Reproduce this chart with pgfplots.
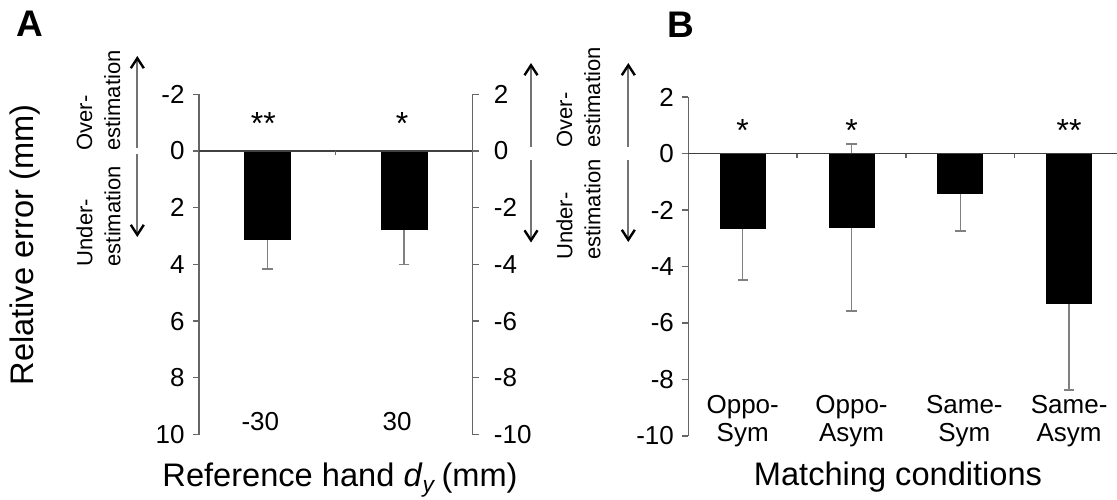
\documentclass[border=0pt]{standalone}
\usepackage{pgfplots}
\pgfplotsset{compat=1.18}
\usepackage{fontspec}
\setmainfont{Liberation Sans}
\usetikzlibrary{arrows.meta}
\definecolor{axgray}{gray}{0.4}
\definecolor{errgray}{gray}{0.5}
\definecolor{arrgray}{gray}{0.45}
\newcommand{\tickfont}{\fontsize{13}{14}\selectfont}
\newcommand{\astfont}{\fontsize{16}{16}\selectfont}
\newcommand{\labfont}{\fontsize{16.3}{19}\selectfont}
\newcommand{\estfont}{\fontsize{11}{14}\selectfont}

\pgfplotsset{
  common/.style={
    scale only axis, axis x line=none, tick align=outside, major tick length=3pt,
    axis line style={axgray, line width=0.7pt},
    every tick/.style={axgray, line width=0.7pt},
    yticklabel style={font=\tickfont, inner sep=0pt, text=black},
    clip=false,
  },
  errs/.style={draw=none, forget plot,
    error bars/.cd, y dir=both, y explicit,
    error bar style={draw=errgray, line width=0.75pt},
    error mark options={draw=errgray, line width=0.75pt, rotate=90, mark size=2.6pt}},
}

\begin{document}
\begin{tikzpicture}[x=0.5pt,y=-0.5pt]
\useasboundingbox (0,0) rectangle (1117,499);

% ---------- Panel A (left axis) ----------
\begin{axis}[common, at={(99.5pt,-217.25pt)}, anchor=south west,
  width=136.75pt, height=170.15pt,
  xmin=0, xmax=2, ymin=-2, ymax=10, y dir=reverse,
  axis y line*=left,
  ytick={-2,0,2,4,6,8,10}, yticklabels={-2,0,2,4,6,8,10},
  yticklabel style={anchor=east, xshift=-4pt}]
\addplot[errs] coordinates {(0.5,3.13) +- (0,1.03) (1.5,2.77) +- (0,1.23)};
\addplot[ybar, bar width=23pt, fill=black, draw=black] coordinates {(0.5,3.13) (1.5,2.77)};
\draw[black!75, line width=0.8pt] (axis cs:0,0) -- (axis cs:2,0);
\draw[axgray, line width=0.7pt] (axis cs:1,0) -- ([yshift=-2pt]axis cs:1,0);
\node[font=\astfont, inner sep=0pt] at ([xshift=-2pt]axis cs:0.5,-0.95) {**};
\node[font=\astfont, inner sep=0pt] at ([xshift=-1pt]axis cs:1.5,-0.95) {*};
\node[font=\tickfont, inner sep=0pt] at ([xshift=-3.5pt]axis cs:0.5,9.53) {-30};
\node[font=\tickfont, inner sep=0pt] at ([xshift=-3.5pt]axis cs:1.5,9.53) {30};
\end{axis}

% ---------- Panel A (right axis) ----------
\begin{axis}[common, at={(99.5pt,-217.25pt)}, anchor=south west,
  width=136.75pt, height=170.15pt,
  xmin=0, xmax=2, ymin=-10, ymax=2,
  axis y line*=right,
  ytick={-10,-8,-6,-4,-2,0,2}, yticklabels={-10,-8,-6,-4,-2,0,2},
  yticklabel style={anchor=west, xshift=7.5pt}]
\addplot[draw=none] coordinates {(0,0) (2,0)};
\end{axis}

% ---------- Panel B ----------
\begin{axis}[common, at={(344.15pt,-218pt)}, anchor=south west,
  width=214.35pt, height=169.5pt,
  xmin=0, xmax=3.94, ymin=-10, ymax=2,
  axis y line*=left,
  ytick={-10,-8,-6,-4,-2,0,2}, yticklabels={-10,-8,-6,-4,-2,0,2},
  yticklabel style={anchor=east, xshift=-4pt}]
\addplot[errs] coordinates {(0.5,-2.65) +- (0,1.82) (1.5,-2.62) +- (0,2.95) (2.5,-1.40) +- (0,1.35) (3.5,-5.31) +- (0,3.07)};
\addplot[ybar, bar width=22.5pt, fill=black, draw=black] coordinates {(0.5,-2.65) (1.5,-2.62) (2.5,-1.40) (3.5,-5.31)};
\draw[black!75, line width=0.8pt] (axis cs:0,0) -- (axis cs:3.94,0);
\draw[axgray, line width=0.7pt] (axis cs:1,0) -- ([yshift=-2pt]axis cs:1,0);
\draw[axgray, line width=0.7pt] (axis cs:2,0) -- ([yshift=-2pt]axis cs:2,0);
\draw[axgray, line width=0.7pt] (axis cs:3,0) -- ([yshift=-2pt]axis cs:3,0);
\node[font=\astfont, inner sep=0pt] at (axis cs:0.5,0.82) {*};
\node[font=\astfont, inner sep=0pt] at (axis cs:1.5,0.82) {*};
\node[font=\astfont, inner sep=0pt] at (axis cs:3.5,0.82) {**};
\node[font=\tickfont, inner sep=0pt, align=center] at (axis cs:0.5,-9.48) {Oppo-\\Sym};
\node[font=\tickfont, inner sep=0pt, align=center] at (axis cs:1.5,-9.48) {Oppo-\\Asym};
\node[font=\tickfont, inner sep=0pt, align=center] at ([xshift=2pt]axis cs:2.5,-9.48) {Same-\\Sym};
\node[font=\tickfont, inner sep=0pt, align=center] at (axis cs:3.5,-9.48) {Same-\\Asym};
\end{axis}

% ---------- Annotations ----------
\node[font=\bfseries\fontsize{18.5}{20}\selectfont, inner sep=0pt] at (30,24) {A};
\node[font=\bfseries\fontsize{18.5}{20}\selectfont, inner sep=0pt] at (681,25) {B};
\node[rotate=90, font=\labfont, inner sep=0pt] at (25,245) {Relative error (mm)};
\node[font=\labfont, inner sep=0pt] at (340,480) {Reference hand \textit{d}\textsubscript{\textit{y}}\,(mm)};
\node[font=\labfont, inner sep=0pt] at (898,477) {Matching conditions};

\node[rotate=90, anchor=west, align=left, font=\estfont, inner sep=0pt] at (98.5,151) {Over-\\estimation};
\node[rotate=90, anchor=west, align=left, font=\estfont, inner sep=0pt] at (98.5,266.7) {Under-\\estimation};
\node[rotate=90, anchor=west, align=left, font=\estfont, inner sep=0pt] at (578.5,148) {Over-\\estimation};
\node[rotate=90, anchor=west, align=left, font=\estfont, inner sep=0pt] at (578.5,260) {Under-\\estimation};

\tikzset{arr/.style={line width=1pt, arrgray, -{Straight Barb[length=5pt,width=6.5pt,line width=1.2pt,color=black]}}}
\draw[arr] (137.3,148) -- (137.3,56);
\draw[arr] (137.3,154) -- (137.3,237);
\draw[arr] (531,147) -- (531,63);
\draw[arr] (531,160) -- (531,242.5);
\draw[arr] (628.3,147) -- (628.3,63);
\draw[arr] (628.3,160) -- (628.3,242);
\end{tikzpicture}
\end{document}
